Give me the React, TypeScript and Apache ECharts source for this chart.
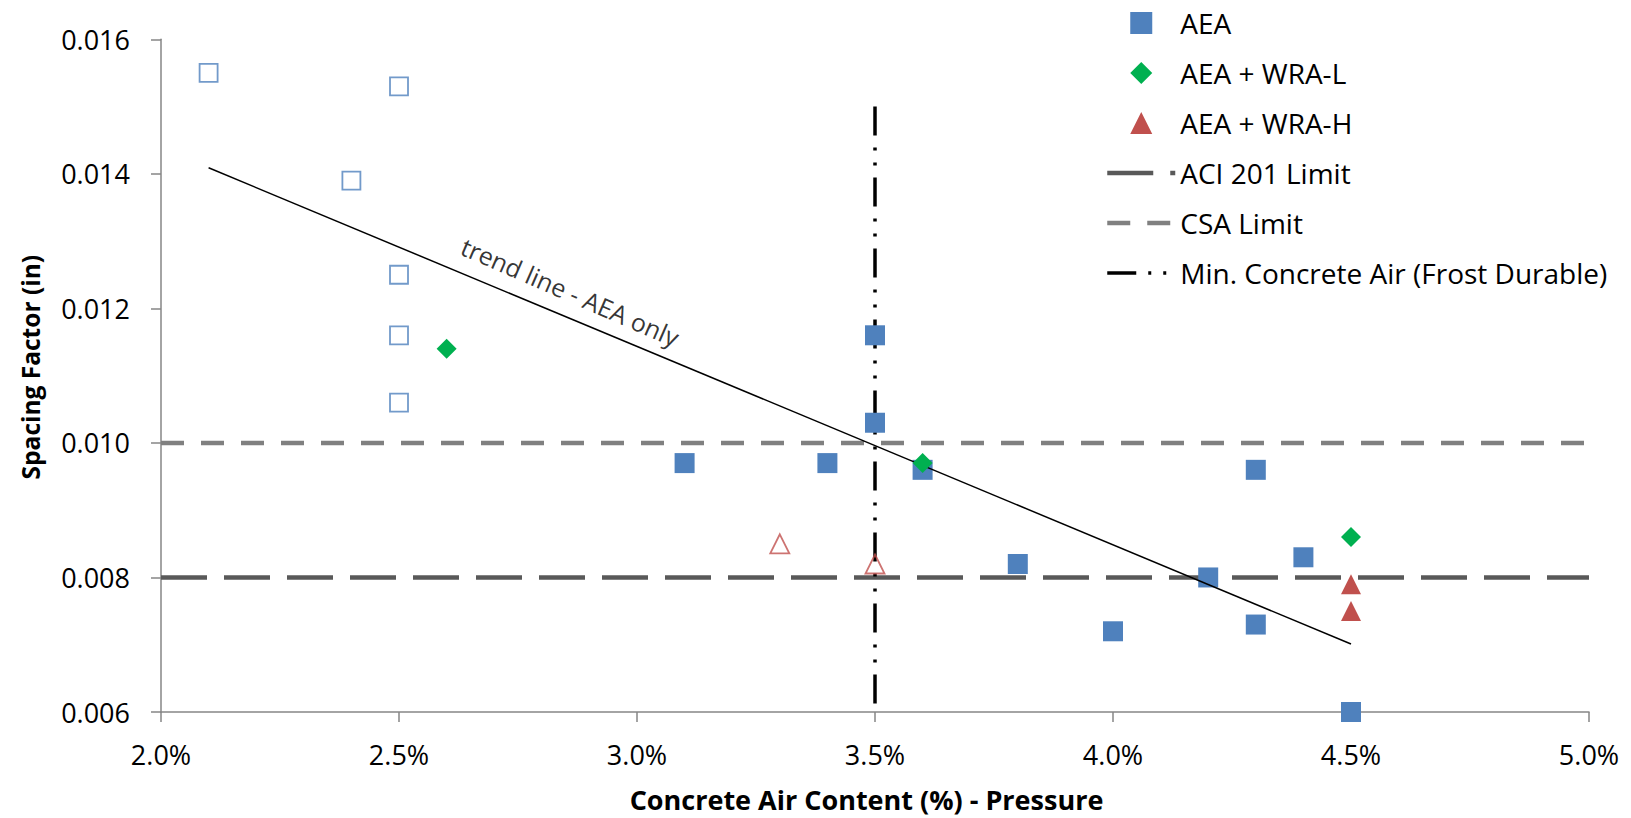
import React, { useEffect, useRef } from "react";
import * as echarts from "echarts";

// Filled points
const aeaPoints: number[][] = [
  [3.1, 0.0097], [3.4, 0.0097], [3.5, 0.0116], [3.5, 0.0103], [3.6, 0.0096],
  [3.8, 0.0082], [4.0, 0.0072], [4.2, 0.008], [4.3, 0.0096], [4.3, 0.0073],
  [4.4, 0.0083], [4.5, 0.006],
];
const aeaOpenPoints: number[][] = [
  [2.1, 0.0155], [2.5, 0.0153], [2.4, 0.0139], [2.5, 0.0125], [2.5, 0.0116], [2.5, 0.0106],
];
const wraLPoints: number[][] = [[2.6, 0.0114], [3.6, 0.0097], [4.5, 0.0086]];
const wraHPoints: number[][] = [[4.5, 0.0079], [4.5, 0.0075]];
const wraHOpenPoints: number[][] = [[2.4, 0.0161], [3.3, 0.0085], [3.5, 0.0082]];

const aciLimit: number[][] = [[2.0, 0.008], [5.0, 0.008]];
const csaLimit: number[][] = [[2.0, 0.01], [5.0, 0.01]];
const minAir: number[][] = [[3.5, 0.015], [3.5, 0.006]];
const trendLine: number[][] = [[2.1, 0.01409], [4.5, 0.00701]];
const trendLabelAt: number[][] = [[2.86, 0.01225]];

const xTicks = { min: 2.0, max: 5.0, interval: 0.5 };
const yTicks = { min: 0.006, max: 0.016, interval: 0.002 };

const FONT = "Open Sans";
const BLUE = "#4F81BD";
const GREEN = "#00B050";
const RED = "#C0504D";

const ACI_STYLE = { color: "#595959", width: 4.5, type: [46, 17] };
const CSA_STYLE = { color: "#808080", width: 4.5, type: [23, 17] };
const MIN_STYLE = { color: "#000", width: 3.5, type: [29, 12, 3, 12, 3, 12] };

const ICON_SQUARE = "path://M0,0L10,0L10,10L0,10Z";
const ICON_DIAMOND = "path://M5,0L10,5L5,10L0,5Z";
const ICON_TRIANGLE = "path://M5,0L10,10L0,10Z";
const hiddenDot = { color: "rgba(0,0,0,0)", borderColor: "rgba(0,0,0,0)", borderWidth: 0 };

export default function App() {
  const ref = useRef<HTMLDivElement>(null);
  useEffect(() => {
    if (!ref.current) return;
    const chart = echarts.init(ref.current, undefined, { renderer: "svg" });
    const axisLine = { show: true, lineStyle: { color: "#868686", width: 1.5 } };
    const axisTick = { show: true, inside: false, length: 10, lineStyle: { color: "#868686", width: 1.5 } };
    chart.setOption({
      animation: false,
      backgroundColor: "#fff",
      textStyle: { fontFamily: FONT },
      grid: { left: 161, right: 42, top: 39.3, bottom: 105.3, containLabel: false },
      legend: {
        orient: "vertical",
        left: 1105,
        top: 9,
        padding: 0,
        itemWidth: 68,
        itemHeight: 22,
        itemGap: 22,
        selectedMode: false,
        symbolKeepAspect: true,
        textStyle: { fontFamily: FONT, fontSize: 28, color: "#000", lineHeight: 22, padding: [0, 0, 0, 0] },
        data: [
          { name: "AEA", icon: ICON_SQUARE },
          { name: "AEA + WRA-L", icon: ICON_DIAMOND },
          { name: "AEA + WRA-H", icon: ICON_TRIANGLE },
          { name: "ACI 201 Limit", itemStyle: hiddenDot, lineStyle: ACI_STYLE },
          { name: "CSA Limit", itemStyle: hiddenDot, lineStyle: CSA_STYLE },
          { name: "Min. Concrete Air (Frost Durable)", itemStyle: hiddenDot, lineStyle: MIN_STYLE },
        ],
      },
      xAxis: {
        type: "value",
        min: xTicks.min,
        max: xTicks.max,
        interval: xTicks.interval,
        name: "Concrete Air Content (%) - Pressure",
        nameLocation: "middle",
        nameGap: 74,
        nameTextStyle: { fontFamily: FONT, fontWeight: "bold", fontSize: 27, color: "#000", padding: [0, 17, 0, 0] },
        axisLine,
        axisTick,
        splitLine: { show: false },
        axisLabel: { margin: 29, fontSize: 27, color: "#000", fontFamily: FONT, formatter: (v: number) => v.toFixed(1) + "%" },
      },
      yAxis: {
        type: "value",
        min: yTicks.min,
        max: yTicks.max,
        interval: yTicks.interval,
        name: "Spacing Factor (in)",
        nameLocation: "middle",
        nameRotate: 90,
        nameGap: 118,
        nameTextStyle: { fontFamily: FONT, fontWeight: "bold", fontSize: 24.5, color: "#000", padding: [0, 0, 0, 17] },
        axisLine,
        axisTick,
        splitLine: { show: false },
        axisLabel: { margin: 31, fontSize: 27, color: "#000", fontFamily: FONT, formatter: (v: number) => v.toFixed(3) },
      },
      series: [
        {
          name: "CSA Limit",
          type: "line",
          data: csaLimit,
          symbol: "none",
          lineStyle: CSA_STYLE,
          itemStyle: { color: CSA_STYLE.color },
          z: 1,
        },
        {
          name: "ACI 201 Limit",
          type: "line",
          data: aciLimit,
          symbol: "none",
          lineStyle: ACI_STYLE,
          itemStyle: { color: ACI_STYLE.color },
          z: 1,
        },
        {
          name: "Min. Concrete Air (Frost Durable)",
          type: "line",
          data: minAir,
          symbol: "none",
          lineStyle: MIN_STYLE,
          itemStyle: { color: MIN_STYLE.color },
          z: 1,
        },
        {
          name: "trend",
          type: "line",
          data: trendLine,
          symbol: "none",
          lineStyle: { color: "#000", width: 1.5 },
          z: 3,
        },
        {
          name: "trendLabel",
          type: "scatter",
          data: trendLabelAt,
          symbolSize: 0,
          silent: true,
          label: {
            show: true,
            position: "inside",
            rotate: -23.5,
            formatter: "trend line - AEA only",
            fontFamily: FONT,
            fontSize: 25,
            color: "#000",
          },
        },
        {
          name: "AEA",
          type: "scatter",
          data: aeaPoints,
          symbol: "rect",
          symbolSize: 20,
          itemStyle: { color: BLUE, opacity: 1 },
          z: 2,
        },
        {
          name: "AEA open",
          type: "scatter",
          data: aeaOpenPoints,
          symbol: "rect",
          symbolSize: 18,
          itemStyle: { color: "rgba(255,255,255,0)", borderColor: BLUE, borderWidth: 1.8 },
          z: 2,
        },
        {
          name: "AEA + WRA-L",
          type: "scatter",
          data: wraLPoints,
          symbol: "diamond",
          symbolSize: 20,
          itemStyle: { color: GREEN, opacity: 1 },
          z: 4,
        },
        {
          name: "AEA + WRA-H",
          type: "scatter",
          data: wraHPoints,
          symbol: "triangle",
          symbolSize: 20,
          itemStyle: { color: RED, opacity: 1 },
          z: 2,
        },
        {
          name: "WRA-H open",
          type: "scatter",
          data: wraHOpenPoints,
          symbol: "triangle",
          symbolSize: 19,
          itemStyle: { color: "rgba(255,255,255,0)", borderColor: RED, borderWidth: 1.8 },
          z: 2,
        },
      ],
    });
    return () => chart.dispose();
  }, []);
  return (
    <div
      ref={ref}
      style={{ position: "absolute", left: 0, top: 0, width: 1631, height: 818 }}
    />
  );
}
